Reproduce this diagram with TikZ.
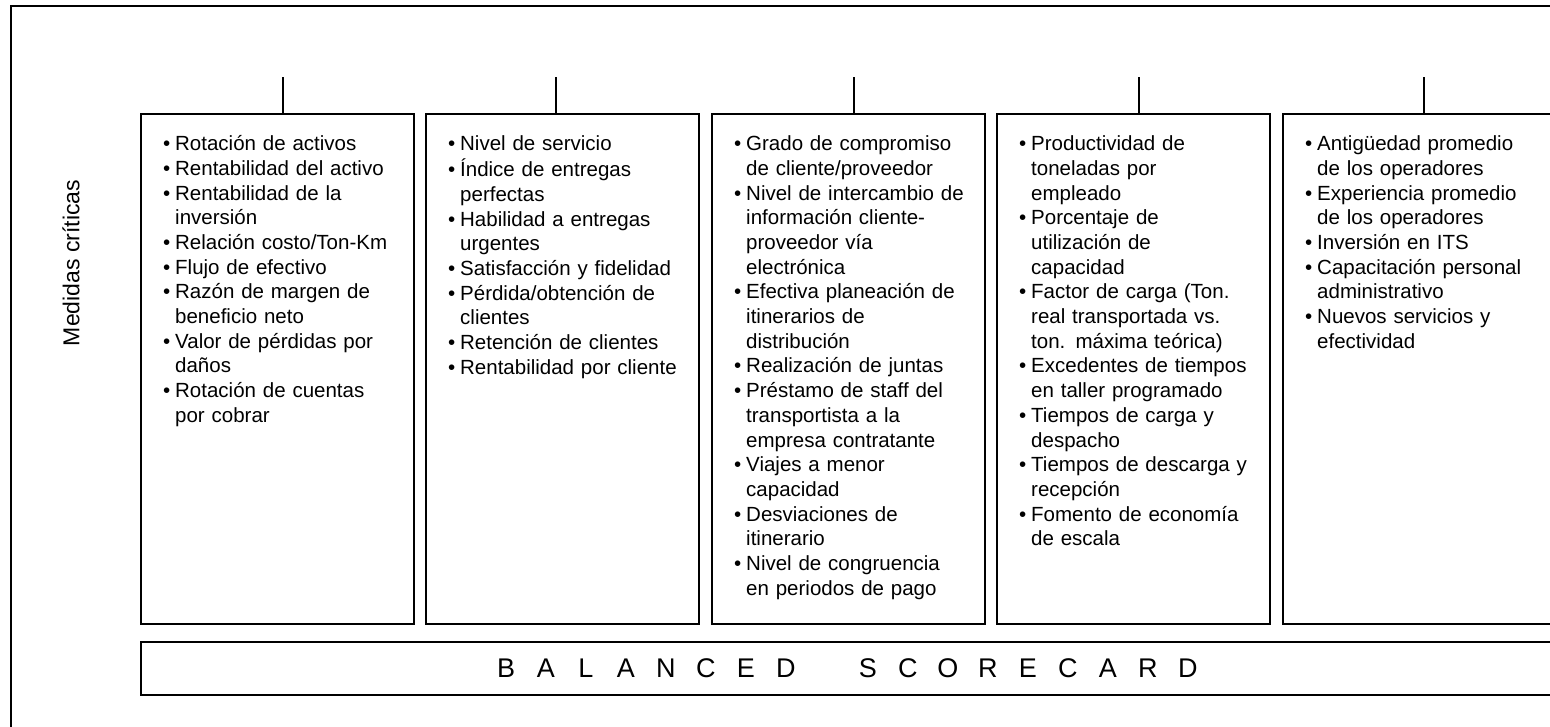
\documentclass[tikz,border=0pt]{standalone}
\usepackage{fontspec}
\setmainfont{Liberation Sans}
\usetikzlibrary{positioning}

% vineta con sangria francesa
\newcommand{\vi}[1]{\par\hangindent=12pt\hangafter=1\noindent\makebox[12pt][l]{\textbullet}\strut#1\par}
% letra espaciada
\newcommand{\letra}[1]{\makebox[40pt]{#1}}

\tikzset{
  caja/.style={draw, line width=2pt, minimum width=273pt, minimum height=510pt, inner sep=0pt, anchor=north west},
  lista/.style={anchor=north west, inner sep=0pt, text width=245pt, align=left, font=\fontsize{20.5}{24.7}\selectfont},
  linea/.style={line width=2pt},
  barra/.style={draw, line width=2pt, minimum width=1426pt, minimum height=53pt, inner sep=0pt}
}

\begin{document}
\begin{tikzpicture}[x=1pt,y=-1pt]
  \useasboundingbox (0,0) rectangle (1550,726);
  \clip (0,0) rectangle (1550,726);

  % Marco
  \draw[linea] (11,6) rectangle (1600,760);

  % Etiqueta lateral
  \node[rotate=90, font=\fontsize{23}{23}\selectfont] (etiqueta) at (71,263) {Medidas críticas};

  % Cajas y conectores
  \foreach \n/\x/\c in {1/140/283, 2/425/556, 3/711/854, 4/996/1139, 5/1282/1424} {
    \node[caja] (m\n) at (\x,113) {};
    \coordinate (s\n) at (\c,77);
    \draw[linea] (s\n) -- (s\n |- m\n.north);
  }

  % Medidas
  \node[lista] (t1) at ([xshift=23pt,yshift=-12.7pt]m1.north west) {
    \vi{Rotación de activos}
    \vi{Rentabilidad del activo}
    \vi{Rentabilidad de la\newline inversión}
    \vi{Relación costo/Ton-Km}
    \vi{Flujo de efectivo}
    \vi{Razón de margen de\newline beneficio neto}
    \vi{Valor de pérdidas por\newline daños}
    \vi{Rotación de cuentas\newline por cobrar}};
  \node[lista] (t2) at ([xshift=23pt,yshift=-12.7pt]m2.north west) {
    \vi{Nivel de servicio}
    \vi{Índice de entregas\newline perfectas}
    \vi{Habilidad a entregas\newline urgentes}
    \vi{Satisfacción y fidelidad}
    \vi{Pérdida/obtención de\newline clientes}
    \vi{Retención de clientes}
    \vi{Rentabilidad por cliente}};
  \node[lista] (t3) at ([xshift=23pt,yshift=-12.7pt]m3.north west) {
    \vi{Grado de compromiso\newline de cliente/proveedor}
    \vi{Nivel de intercambio de\newline información cliente-\newline proveedor vía\newline electrónica}
    \vi{Efectiva planeación de\newline itinerarios de\newline distribución}
    \vi{Realización de juntas}
    \vi{Préstamo de staff del\newline transportista a la\newline empresa contratante}
    \vi{Viajes a menor\newline capacidad}
    \vi{Desviaciones de\newline itinerario}
    \vi{Nivel de congruencia\newline en periodos de pago}};
  \node[lista] (t4) at ([xshift=23pt,yshift=-12.7pt]m4.north west) {
    \vi{Productividad de\newline toneladas por\newline empleado}
    \vi{Porcentaje de\newline utilización de\newline capacidad}
    \vi{Factor de carga (Ton.\newline real transportada vs.\newline ton. máxima teórica)}
    \vi{Excedentes de tiempos\newline en taller programado}
    \vi{Tiempos de carga y\newline despacho}
    \vi{Tiempos de descarga y\newline recepción}
    \vi{Fomento de economía\newline de escala}};
  \node[lista] (t5) at ([xshift=23pt,yshift=-12.7pt]m5.north west) {
    \vi{Antigüedad promedio\newline de los operadores}
    \vi{Experiencia promedio\newline de los operadores}
    \vi{Inversión en ITS}
    \vi{Capacitación personal\newline administrativo}
    \vi{Nuevos servicios y\newline efectividad}};

  % Barra inferior
  \node[barra, anchor=north west] (bsc) at (140,641) {};
  \node[font=\fontsize{27}{27}\selectfont, inner sep=0pt] (titulo) at ([xshift=-7pt]bsc.center) {\letra{B}\letra{A}\letra{L}\letra{A}\letra{N}\letra{C}\letra{E}\letra{D}\hspace{42pt}\letra{S}\letra{C}\letra{O}\letra{R}\letra{E}\letra{C}\letra{A}\letra{R}\letra{D}};
\end{tikzpicture}
\end{document}
